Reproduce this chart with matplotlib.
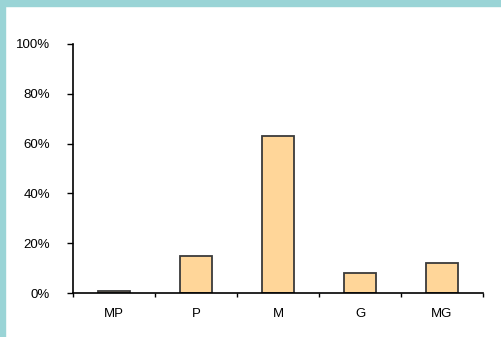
import matplotlib
matplotlib.use("Agg")
import matplotlib.pyplot as plt
from matplotlib.patches import Rectangle
from matplotlib.ticker import FuncFormatter, FixedLocator

# Datos
categorias = ['MP', 'P', 'M', 'G', 'MG']
porcentajes = [1, 15, 63, 8, 12]
ticks_y = [0, 20, 40, 60, 80, 100]

plt.rcParams['font.family'] = ['Liberation Sans', 'DejaVu Sans']

fig = plt.figure(figsize=(5.01, 3.37), dpi=100)
ax = fig.add_axes([73 / 501, 44 / 337, 410 / 501, 249 / 337])

x = list(range(len(categorias)))
ax.bar(x, porcentajes, width=0.39, color='#FFD699', edgecolor='#3a3a3a', linewidth=1.3)

ax.set_xlim(-0.5, len(categorias) - 0.5)
ax.set_ylim(0, 100)
ax.set_yticks(ticks_y)
ax.yaxis.set_major_formatter(FuncFormatter(lambda v, p: f'{int(v)}%'))
ax.set_xticks(x)
ax.set_xticklabels(categorias)
ax.xaxis.set_minor_locator(FixedLocator([i - 0.5 for i in range(len(categorias) + 1)]))

ax.tick_params(axis='y', length=4, width=1, pad=12.5, labelsize=9.5, colors='black')
ax.tick_params(axis='x', which='major', length=0, pad=11, labelsize=9.5)
ax.tick_params(axis='x', which='minor', length=3, width=1)

for s in ['top', 'right']:
    ax.spines[s].set_visible(False)
ax.spines['left'].set_linewidth(1.2)
ax.spines['bottom'].set_linewidth(1.2)

# Borde turquesa
fig.add_artist(Rectangle((0, 1 - 6 / 337), 1, 6 / 337, transform=fig.transFigure,
                         color='#9AD4D6', zorder=10))
fig.add_artist(Rectangle((0, 0), 5 / 501, 1, transform=fig.transFigure,
                         color='#9AD4D6', zorder=10))

fig.savefig('out.png', dpi=100)
